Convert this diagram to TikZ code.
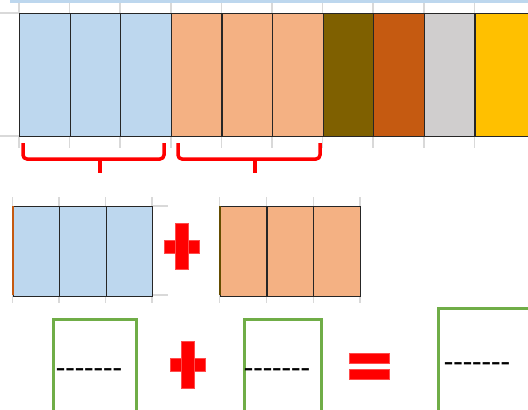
\documentclass[tikz,border=0pt]{standalone}
\usepackage{fontspec}
\setmainfont{Carlito}
\definecolor{cblue}{HTML}{BDD7EE}
\definecolor{corange}{HTML}{F4B183}
\definecolor{cgold}{HTML}{7F6000}
\definecolor{crust}{HTML}{C55A11}
\definecolor{cgray}{HTML}{D0CECE}
\definecolor{cyellow}{HTML}{FFC000}
\definecolor{cgrid}{HTML}{D9D9D9}
\definecolor{cgreen}{HTML}{70AD47}
\definecolor{cred}{HTML}{FF0000}
\newcommand\sevendash{-\kern0pt-\kern0pt-\kern0pt-\kern0pt-\kern0pt-\kern0pt-}
\tikzset{
  gridln/.style={cgrid, line width=1.5pt},
  topcell/.style={draw=black!85, line width=1.2pt, anchor=north west, inner sep=0pt, minimum width=50.6pt, minimum height=123pt},
  midcell/.style={draw=black!85, line width=1.2pt, anchor=north west, inner sep=0pt, minimum width=46.7pt, minimum height=89.5pt},
  bracestyle/.style={cred, line width=3.5pt, rounded corners=4pt},
  bracetip/.style={cred, line width=4pt},
  redshape/.style={fill=cred, draw=cred!70, line width=0.4pt},
  gbox/.style={draw=cgreen, line width=2.5pt, anchor=north west, inner sep=0pt, minimum height=110pt},
  dashtext/.style={inner sep=0pt, font=\fontsize{31}{31}\selectfont}
}
\begin{document}
\begin{tikzpicture}[x=1pt,y=-1pt]
\clip (0,0) rectangle (528,410);
\fill[white] (0,0) rectangle (528,410);
% spreadsheet grid remnants
\fill[cblue] (10,0) rectangle (528,3);
\foreach \i in {0,...,9} {
  \draw[gridln] (19+\i*50.6,3) -- (19+\i*50.6,13) (19+\i*50.6,136) -- (19+\i*50.6,148);
}
\draw[gridln] (0,13) -- (19,13) (0,136) -- (19,136);
\foreach \x in {12.5,59,105.5,152,219.5,266.5,313.5,360} {
  \draw[gridln] (\x,197) -- (\x,206) (\x,295) -- (\x,303);
}
\draw[gridln] (152,206) -- (168,206) (152,295) -- (168,295);
% top bar
\foreach \c [count=\i from 0] in {cblue,cblue,cblue,corange,corange,corange,cgold,crust,cgray} {
  \node[topcell, fill=\c] (t\i) at (19+\i*50.6,13) {};
}
\node[topcell, fill=cyellow, minimum width=70pt] (t9) at (19+9*50.6,13) {};
% braces
\draw[bracestyle] (23,143) -- (23,159) -- (164,159) -- (164,143);
\draw[bracetip] (99.5,158) -- (99.5,173);
\draw[bracestyle] (178,143) -- (178,159) -- (320,159) -- (320,143);
\draw[bracetip] (254.5,158) -- (254.5,173);
% middle row
\foreach \i in {0,1,2} {
  \node[midcell, fill=cblue] (mb\i) at (12.5+\i*46.5,206) {};
  \node[midcell, fill=corange] (mo\i) at (219.5+\i*46.8,206) {};
}
\fill[crust] (12,206) rectangle (13.5,295);
\fill[cgold!80!black] (219,206) rectangle (221,295);
% middle plus
\fill[redshape] (164,240) rectangle (199,253);
\fill[redshape] (175,223) rectangle (188,269);
% bottom row
\node[gbox, minimum width=83pt] (b1) at (52,318) {};
\node[gbox, minimum width=77pt] (b2) at (243,318) {};
\node[gbox, minimum width=110pt] (b3) at (437,307) {};
\node[dashtext] (d1) at (89,373.5) {\sevendash};
\node[dashtext] (d2) at (277,373.5) {\sevendash};
\node[dashtext] (d3) at (477,367.5) {\sevendash};
% bottom plus
\fill[redshape] (170,358) rectangle (205,371);
\fill[redshape] (181,341) rectangle (194,388);
% equals
\fill[redshape] (349,353) rectangle (389,363);
\fill[redshape] (349,369) rectangle (389,379);
\end{tikzpicture}
\end{document}
